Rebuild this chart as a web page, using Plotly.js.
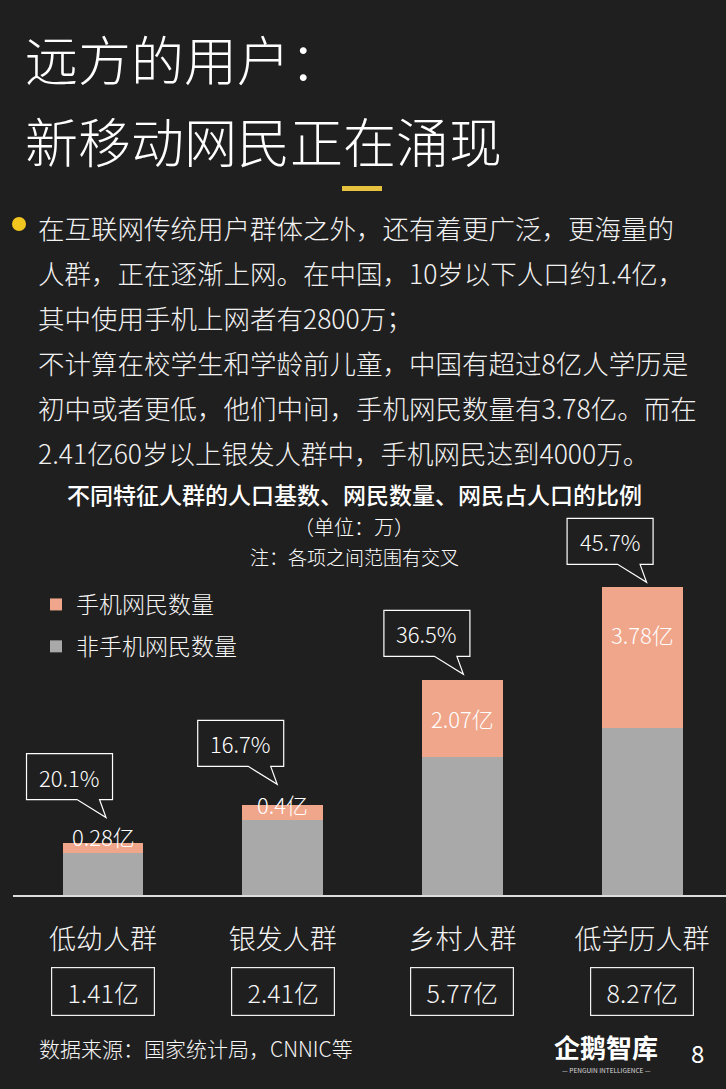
<!DOCTYPE html>
<html>
<head>
<meta charset="utf-8">
<script src="https://cdn.plot.ly/plotly-3.0.1.min.js"></script>
<style>
  html, body { margin: 0; padding: 0; background: #201f1f; }
  #chart { width: 726px; height: 1089px; }
</style>
</head>
<body>
<div id="chart"></div>
<script>
// values in 万
const categories = ['低幼人群', '银发人群', '乡村人群', '低学历人群'];
const mobileUsers = [2800, 4000, 20700, 37800];
const nonMobileUsers = [11300, 20100, 37000, 44900];
const mobileLabels = ['0.28亿', '0.4亿', '2.07亿', '3.78亿'];
const shareLabels = ['20.1%', '16.7%', '36.5%', '45.7%'];
const totalLabels = ['1.41亿', '2.41亿', '5.77亿', '8.27亿'];

const headline = ['远方的用户：', '新移动网民正在涌现'];
const bulletLines = [
  '在互联网传统用户群体之外，还有着更广泛，更海量的',
  '人群，正在逐渐上网。在中国，10岁以下人口约1.4亿，',
  '其中使用手机上网者有2800万；',
  '不计算在校学生和学龄前儿童，中国有超过8亿人学历是',
  '初中或者更低，他们中间，手机网民数量有3.78亿。而在',
  '2.41亿60岁以上银发人群中，手机网民达到4000万。'
];
const chartTitle = [
  '不同特征人群的人口基数、网民数量、网民占人口的比例',
  '（单位：万）',
  '注：各项之间范围有交叉'
];

// page geometry (pixels)
const W = 726, H = 1089;
const M = {l: 13, r: 0, t: 470, b: 194};
const plotW = W - M.l - M.r, plotH = H - M.t - M.b;
function px(x) { return (x - M.l) / plotW; }
function py(y) { return (H - M.b - y) / plotH; }

const FONT = "'Noto Sans CJK SC', 'Noto Sans', sans-serif";
const ORANGE = '#f0a68b';
const GRAY = '#aaa9aa';
const WHITE = '#f5f5f5';

// bubble placement relative to the bar top: gap above top, tip x shift
const bubbleGap = [25, 21, 6, 5];
const bubbleTipDx = [3, -5.5, 1, 4.5];
// value label offset relative to bar top
const valueShift = [7, 1, -38, -47];

const totals = mobileUsers.map((m, i) => m + nonMobileUsers[i]);

const data = [
  {
    type: 'bar', name: '非手机网民数量', x: categories, y: nonMobileUsers,
    marker: {color: GRAY}, width: 0.45, legendgroup: 'b', legendrank: 2, hoverinfo: 'skip'
  },
  {
    type: 'bar', name: '手机网民数量', x: categories, y: mobileUsers,
    marker: {color: ORANGE}, width: 0.45, legendgroup: 'a', legendrank: 1, hoverinfo: 'skip'
  }
];

const annotations = [];
const shapes = [];

// headline
headline.forEach((t, i) => {
  annotations.push({
    xref: 'paper', yref: 'paper', x: px(23), y: py([58, 140][i]),
    xanchor: 'left', yanchor: 'middle', showarrow: false, text: t,
    font: {family: FONT, size: 53, color: '#ffffff', weight: 300}
  });
});
shapes.push({type: 'rect', xref: 'paper', yref: 'paper', x0: px(342), x1: px(382),
  y0: py(191), y1: py(186), line: {width: 0}, fillcolor: '#e7c23f'});

// bullet paragraph
shapes.push({type: 'circle', xref: 'paper', yref: 'paper', x0: px(12), x1: px(26),
  y0: py(231), y1: py(217), line: {width: 0}, fillcolor: '#f3c51f'});
bulletLines.forEach((t, i) => {
  annotations.push({
    xref: 'paper', yref: 'paper', x: px(36), y: py(227 + i * 45),
    xanchor: 'left', yanchor: 'middle', showarrow: false, text: t,
    font: {family: FONT, size: 26.5, color: '#f2f2f2', weight: 300}
  });
});

// chart title lines
[[494, 23, 500], [526, 20, 300], [556, 19, 300]].forEach(([y, s, w], i) => {
  annotations.push({
    xref: 'paper', yref: 'paper', x: px(354), y: py(y), xanchor: 'center', yanchor: 'middle',
    showarrow: false, text: chartTitle[i],
    font: {family: FONT, size: s, color: '#ffffff', weight: w}
  });
});

categories.forEach((c, i) => {
  // value label of the mobile segment
  annotations.push({
    xref: 'x', yref: 'y', x: c, y: totals[i], yshift: valueShift[i],
    xanchor: 'center', yanchor: 'middle', showarrow: false, text: mobileLabels[i],
    font: {family: FONT, size: 22, color: '#ffffff', weight: 300}
  });

  // speech bubble with share
  const g = bubbleGap[i], tx = bubbleTipDx[i];
  const cx = tx - 36.5, yb = g + 18, yt = yb + 46;
  const path = 'M' + (cx - 43) + ',' + yb + ' L' + (cx + 7.5) + ',' + yb +
    ' L' + tx + ',' + g + ' L' + (cx + 30) + ',' + yb + ' L' + (cx + 43) + ',' + yb +
    ' L' + (cx + 43) + ',' + yt + ' L' + (cx - 43) + ',' + yt + ' Z';
  shapes.push({
    type: 'path', xref: 'x', yref: 'y', xsizemode: 'pixel', ysizemode: 'pixel',
    xanchor: c, yanchor: totals[i], path: path, line: {color: '#ffffff', width: 1.2}
  });
  annotations.push({
    xref: 'x', yref: 'y', x: c, y: totals[i], xshift: cx, yshift: yb + 23,
    xanchor: 'center', yanchor: 'middle', showarrow: false, text: shareLabels[i],
    font: {family: FONT, size: 22, color: '#ffffff', weight: 300}
  });

  // boxed population total
  annotations.push({
    xref: 'x', yref: 'paper', x: c, y: py(991.5), xanchor: 'center', yanchor: 'middle',
    showarrow: false, text: totalLabels[i], width: 100, height: 45,
    bordercolor: '#f0f0f0', borderwidth: 1.2, borderpad: 1,
    font: {family: FONT, size: 25, color: WHITE, weight: 300}
  });
});

// footer
annotations.push({
  xref: 'paper', yref: 'paper', x: px(37), y: py(1048), xanchor: 'left', yanchor: 'middle',
  showarrow: false, text: '数据来源：国家统计局，CNNIC等',
  font: {family: FONT, size: 21, color: WHITE, weight: 300}
});
annotations.push({
  xref: 'paper', yref: 'paper', x: px(606), y: py(1046), xanchor: 'center', yanchor: 'middle',
  showarrow: false, text: '企鹅智库', font: {family: FONT, size: 26, color: '#ffffff', weight: 700}
});
annotations.push({
  xref: 'paper', yref: 'paper', x: px(606), y: py(1070), xanchor: 'center', yanchor: 'middle',
  showarrow: false, text: '— PENGUIN INTELLIGENCE —',
  font: {family: FONT, size: 6.5, color: '#dddddd'}
});
annotations.push({
  xref: 'paper', yref: 'paper', x: px(697), y: py(1052), xanchor: 'center', yanchor: 'middle',
  showarrow: false, text: '8', font: {family: FONT, size: 24, color: '#ffffff'}
});

const layout = {
  width: W, height: H,
  margin: {l: M.l, r: M.r, t: M.t, b: M.b, pad: 0},
  paper_bgcolor: '#201f1f', plot_bgcolor: '#201f1f',
  barmode: 'stack',
  showlegend: true,
  legend: {
    x: px(36), xanchor: 'left', y: py(583), yanchor: 'top',
    font: {family: FONT, size: 23, color: WHITE, weight: 300},
    bgcolor: 'rgba(0,0,0,0)', tracegroupgap: 9, traceorder: 'grouped'
  },
  xaxis: {
    type: 'category', range: [-0.501, 3.467], fixedrange: true,
    showgrid: false, zeroline: false, showline: true, linecolor: '#dcdcdc', linewidth: 1.5,
    ticks: '', ticklabelstandoff: 20,
    tickfont: {family: FONT, size: 27, color: WHITE, weight: 300}
  },
  yaxis: {
    range: [0, 114250], fixedrange: true, visible: false,
    showgrid: false, zeroline: false
  },
  annotations: annotations,
  shapes: shapes
};

Plotly.newPlot('chart', data, layout, {displayModeBar: false, staticPlot: true});
</script>
</body>
</html>
